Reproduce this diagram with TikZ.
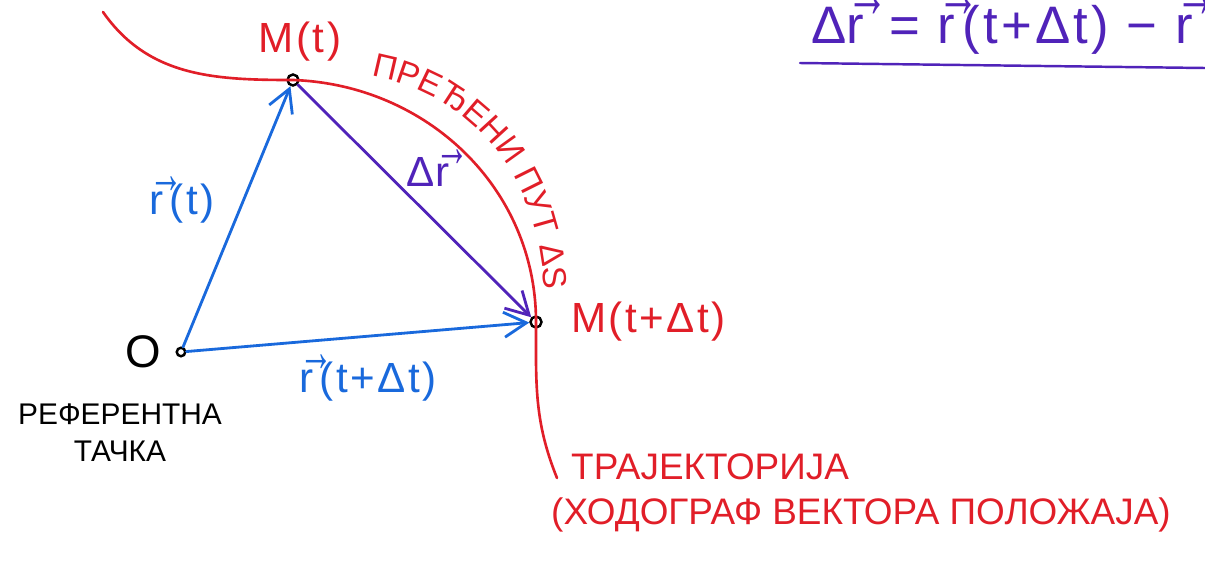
\documentclass[tikz,border=0pt]{standalone}
\usepackage{fontspec}
\usepackage{graphicx}
\setmainfont{Liberation Sans}
\usetikzlibrary{arrows.meta,decorations.text}
\definecolor{trajred}{RGB}{225,30,40}
\definecolor{vecblue}{RGB}{25,105,220}
\definecolor{dviolet}{RGB}{80,35,185}
\newcommand{\vr}{\leavevmode\rlap{\raisebox{0.48em}{\scalebox{0.8}[1.4]{→}}}r\hspace{0.14em}}

\begin{document}
\begin{tikzpicture}[line cap=round,
  vec/.style={line width=1.6pt,-{Straight Barb[length=4.5mm,width=5mm]}},
  pt/.style={circle,draw=black,line width=1.4pt,fill=white,inner sep=0pt,minimum size=2.2mm},
  big/.style={font=\fontsize{24}{28}\selectfont\addfontfeature{LetterSpace=6}}]
\useasboundingbox (0,0) rectangle (24.1,-11.28);
\clip (0,0) rectangle (24.1,-11.28);

\coordinate (top) at (2.06,-0.24);
\coordinate (bot) at (11.14,-9.56);
\node[pt] (Mt) at (5.86,-1.60) {};
\node[pt] (Mdt) at (10.72,-6.44) {};
\node[pt,minimum size=1.7mm] (O) at (3.62,-7.04) {};

\draw[trajred,line width=1.5pt] (top) to[out=-55,in=180] (Mt.center)
  to[out=-2,in=90] (Mdt.center) to[out=-90,in=112] (bot);
\path[decorate,decoration={text along path,text align={fit to path},
  text={|\fontsize{19}{22}\selectfont\color{trajred}|ПРЕЂЕНИ ПУТ ΔS}}]
  (7.42,-1.52) to[out=-10,in=92] (10.88,-5.8);

\draw[vec,vecblue] (O) -- (Mt);
\draw[vec,vecblue] (O) -- (Mdt);
\draw[vec,dviolet] (Mt) -- (Mdt);

\node[big,trajred] at (6.0,-0.84) {M(t)};
\node[big,trajred,anchor=west] at (11.3,-6.44) {M(t+Δt)};
\node[big,vecblue] at (3.64,-4.0) {\vr(t)};
\node[big,dviolet] at (8.56,-3.36) {Δ\vr};
\node[big,vecblue] at (7.36,-7.56) {\vr(t+Δt)};

\node[font=\fontsize{26}{30}\selectfont] at (2.86,-7.04) {O};
\node[font=\fontsize{17}{21}\selectfont,align=center] at (2.4,-8.66) {РЕФЕРЕНТНА\\ТАЧКА};

\node[trajred,anchor=west,font=\fontsize{21}{24}\selectfont] at (11.3,-9.34) {ТРАЈЕКТОРИЈА};
\node[trajred,anchor=west,font=\fontsize{21}{24}\selectfont] at (10.9,-10.3) {(ХОДОГРАФ ВЕКТОРА ПОЛОЖАЈА)};

\node[dviolet,anchor=base west,font=\fontsize{30}{34}\selectfont\addfontfeature{LetterSpace=6}] (formula) at (16.1,-0.86)
  {Δ\vr{} = \vr(t+Δt) − \vr};
\draw[dviolet,line width=1.4pt] (16.0,-1.26) -- (24.1,-1.36);
\end{tikzpicture}
\end{document}
